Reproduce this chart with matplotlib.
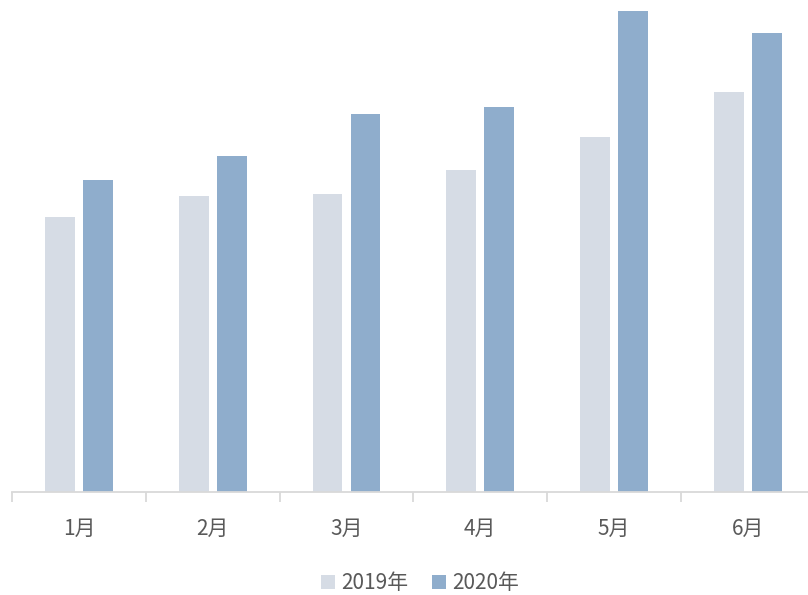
import matplotlib
matplotlib.use("Agg")
import matplotlib.pyplot as plt
from matplotlib.patches import Patch
import numpy as np

plt.rcParams['font.family'] = ['Noto Sans CJK SC', 'DejaVu Sans']

months = ["1月", "2月", "3月", "4月", "5月", "6月"]
series_names = ["2019年", "2020年"]
values_2019 = [275, 296, 298, 322, 355, 400]
values_2020 = [312, 336, 378, 385, 481, 459]

c2019 = "#D6DCE5"
c2020 = "#8FADCC"
text_color = "#595959"
axis_color = "#D9D9D9"

W, H = 808, 595
fig = plt.figure(figsize=(W / 100, H / 100), dpi=100)
step = 133.8
left = 12
base = 492
ax = fig.add_axes([left / W, (H - base) / H, 6 * step / W, base / H])

x = np.arange(len(months))
bw = 0.224
off = 0.142
ax.bar(x - off, values_2019, width=bw, color=c2019, zorder=2)
ax.bar(x + off, values_2020, width=bw, color=c2020, zorder=2)

ax.set_xlim(-0.5, 5.5)
ax.set_ylim(0, base)
for s in ["top", "right", "left"]:
    ax.spines[s].set_visible(False)
ax.spines["bottom"].set_color(axis_color)
ax.spines["bottom"].set_linewidth(1.3)
ax.set_yticks([])

ax.set_xticks(x)
ax.set_xticklabels(months, fontsize=15, color=text_color)
ax.tick_params(axis="x", length=0, pad=19)
# category boundary ticks
ax.set_xticks(np.arange(-0.5, 6.0, 1.0), minor=True)
ax.tick_params(axis="x", which="minor", length=7, width=1.3, color=axis_color)

handles = [Patch(facecolor=c2019, edgecolor="none"),
           Patch(facecolor=c2020, edgecolor="none")]
fig.legend(handles, series_names, loc="center", bbox_to_anchor=(420 / W, 1 - 583 / H),
           ncol=2, frameon=False, fontsize=15, handlelength=0.67, handleheight=0.67,
           handletextpad=0.3, columnspacing=1.1, labelcolor=text_color,
           borderpad=0.2)

fig.savefig("out.png", dpi=100)
